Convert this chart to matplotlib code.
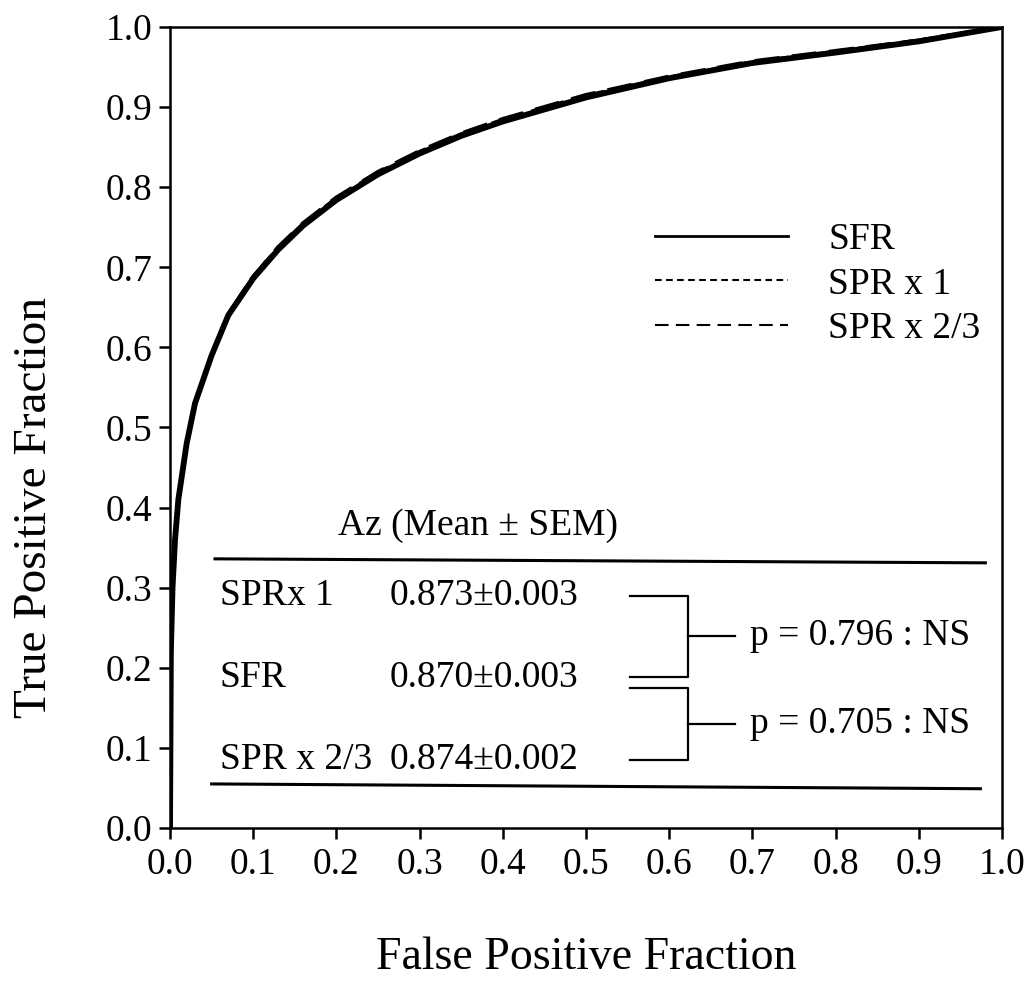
import matplotlib
matplotlib.use("Agg")
import matplotlib.pyplot as plt
from matplotlib.lines import Line2D
from matplotlib.ticker import FormatStrFormatter

plt.rcParams['font.family'] = ['Liberation Serif', 'DejaVu Serif']

# ROC points
fpr = [0.0, 0.001, 0.003, 0.006, 0.01, 0.02, 0.03, 0.05, 0.07, 0.10, 0.13, 0.16,
       0.20, 0.25, 0.30, 0.35, 0.40, 0.50, 0.60, 0.70, 0.80, 0.90, 1.0]
tpr_sfr = [0.0, 0.22, 0.30, 0.36, 0.41, 0.48, 0.53, 0.59, 0.64, 0.686, 0.722, 0.752,
           0.784, 0.816, 0.842, 0.864, 0.882, 0.912, 0.936, 0.955, 0.968, 0.982, 1.0]
tpr_spr1 = [0.0, 0.22, 0.30, 0.36, 0.41, 0.48, 0.53, 0.59, 0.641, 0.688, 0.724, 0.754,
            0.786, 0.818, 0.844, 0.866, 0.884, 0.914, 0.937, 0.956, 0.969, 0.983, 1.0]
tpr_spr23 = [0.0, 0.22, 0.30, 0.36, 0.41, 0.48, 0.53, 0.59, 0.641, 0.688, 0.725, 0.755,
             0.787, 0.819, 0.845, 0.867, 0.885, 0.915, 0.938, 0.957, 0.970, 0.983, 1.0]

series_names = ["SFR", "SPR x 1", "SPR x 2/3"]

# Az table
row_names = ["SPRx 1", "SFR", "SPR x 2/3"]
az_mean = [0.873, 0.870, 0.874]
az_sem = [0.003, 0.003, 0.002]
p_values = [0.796, 0.705]

fig = plt.figure(figsize=(10.28, 9.91), dpi=100)
ax = fig.add_axes([0.1654, 0.1645, 0.8093, 0.8083])

ax.plot(fpr, tpr_sfr, color="black", lw=4.2, solid_capstyle="butt")
ax.plot(fpr, tpr_spr1, color="black", lw=3.0, ls=(0, (3, 2)))
ax.plot(fpr, tpr_spr23, color="black", lw=3.0, ls=(0, (6, 3)))

ax.set_xlim(0, 1)
ax.set_ylim(0, 1)
ax.set_xticks([i / 10 for i in range(11)])
ax.set_yticks([i / 10 for i in range(11)])
ax.xaxis.set_major_formatter(FormatStrFormatter('%.1f'))
ax.yaxis.set_major_formatter(FormatStrFormatter('%.1f'))
ax.tick_params(direction="out", length=8, width=1.8, labelsize=27)
ax.tick_params(axis="x", pad=6)
ax.tick_params(axis="y", pad=4.5)
for s in ax.spines.values():
    s.set_linewidth(1.8)

ax.set_xlabel("False Positive Fraction", fontsize=33)
ax.set_ylabel("True Positive Fraction", fontsize=34)
ax.xaxis.set_label_coords(0.5, -0.135)
ax.yaxis.set_label_coords(-0.137, 0.40)

# legend
handles = [Line2D([], [], color="black", lw=2.0),
           Line2D([], [], color="black", lw=1.5, ls=(0, (3.2, 2.1))),
           Line2D([], [], color="black", lw=1.5, ls=(0, (6.5, 3.5)))]
ax.legend(handles, series_names, loc="upper left", bbox_to_anchor=(0.583, 0.756),
          frameon=False, fontsize=27, handlelength=3.55, handletextpad=1.07,
          labelspacing=0.27, borderpad=0, borderaxespad=0)

# Az table
row_y = [0.29, 0.187, 0.085]
ax.text(0.37, 0.378, "Az (Mean \u00b1 SEM)", fontsize=27, ha="center", va="center")
ax.plot([0.054, 0.98], [0.336, 0.331], color="black", lw=2.2)
ax.plot([0.05, 0.974], [0.055, 0.049], color="black", lw=2.2)
for name, m, e, y in zip(row_names, az_mean, az_sem, row_y):
    ax.text(0.06, y, name, fontsize=27, ha="left", va="center")
    ax.text(0.264, y, f"{m:.3f}\u00b1{e:.3f}", fontsize=27, ha="left", va="center")

# brackets
br_x0, br_x1, br_x2 = 0.553, 0.623, 0.679
pairs = [(row_y[0], row_y[1] + 0.002), (row_y[1] - 0.012, row_y[2])]
for (ya, yb), p in zip(pairs, p_values):
    ax.plot([br_x0, br_x1, br_x1, br_x0], [ya, ya, yb, yb], color="black", lw=1.6)
    ym = (ya + yb) / 2
    ax.plot([br_x1, br_x2], [ym, ym], color="black", lw=1.6)
    ax.text(0.697, ym, f"p = {p:.3f} : NS", fontsize=27, ha="left", va="center")

fig.savefig("out.png", dpi=100)
